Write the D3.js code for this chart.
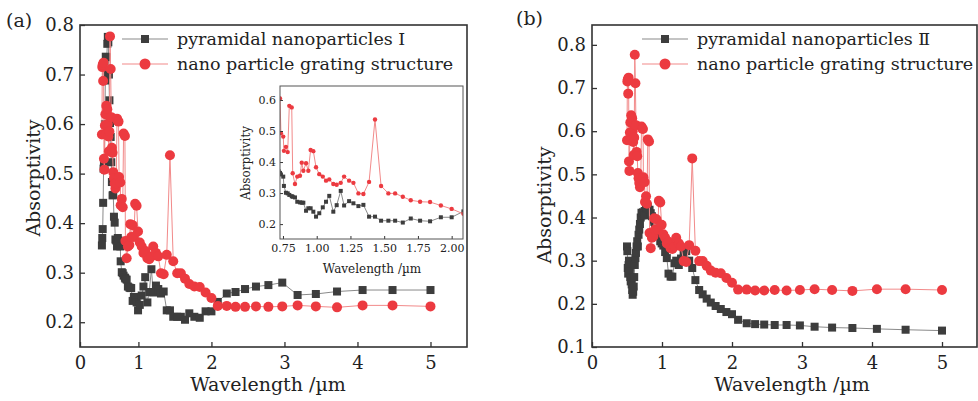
<!DOCTYPE html>
<html>
<head>
<meta charset="utf-8">
<script src="https://cdn.jsdelivr.net/npm/d3@7"></script>
<style>
  body { margin: 0; background: #fff; }
  svg { display: block; }
</style>
</head>
<body>
<svg id="chart" width="978" height="401"></svg>
<script>
// Wavelength sampling (µm), shared by every series
const wavelength = [
  0.500, 0.505, 0.511, 0.517, 0.523, 0.528, 0.534, 0.541, 0.547, 0.553,
  0.560, 0.567, 0.574, 0.581, 0.588, 0.596, 0.603, 0.611, 0.620, 0.628,
  0.637, 0.646, 0.655, 0.665, 0.675, 0.685, 0.696, 0.707, 0.718, 0.728,
  0.735, 0.752, 0.757, 0.772, 0.785, 0.797, 0.815, 0.822, 0.839, 0.856,
  0.876, 0.889, 0.901, 0.921, 0.938, 0.955, 0.975, 0.995, 1.019, 1.045,
  1.069, 1.093, 1.123, 1.148, 1.178, 1.203, 1.240, 1.272, 1.309, 1.346,
  1.388, 1.432, 1.477, 1.531, 1.581, 1.638, 1.697, 1.766, 1.840, 1.920,
  2.000, 2.087, 2.210, 2.330, 2.460, 2.610, 2.780, 2.970, 3.180, 3.430,
  3.720, 4.070, 4.480, 5.000
];

// Absorptivity of the nano particle grating structure
const gratingStructure = [
  0.579, 0.715, 0.720, 0.687, 0.724, 0.530, 0.508, 0.597, 0.620, 0.579,
  0.637, 0.620, 0.630, 0.600, 0.575, 0.545, 0.585, 0.777, 0.711, 0.614,
  0.552, 0.542, 0.503, 0.491, 0.480, 0.470, 0.480, 0.611, 0.606, 0.605,
  0.493, 0.482, 0.436, 0.449, 0.432, 0.581, 0.576, 0.364, 0.329, 0.353,
  0.356, 0.398, 0.372, 0.396, 0.372, 0.439, 0.435, 0.383, 0.361, 0.353,
  0.340, 0.344, 0.329, 0.327, 0.333, 0.353, 0.340, 0.333, 0.299, 0.297,
  0.336, 0.537, 0.323, 0.299, 0.299, 0.288, 0.277, 0.272, 0.271, 0.260,
  0.249, 0.233, 0.233, 0.231, 0.231, 0.232, 0.231, 0.232, 0.234, 0.232,
  0.230, 0.234, 0.234, 0.232
];

// Absorptivity of pyramidal nanoparticles I
const pyramidalI = [
  0.355, 0.370, 0.388, 0.441, 0.510, 0.525, 0.520, 0.600, 0.688, 0.736,
  0.700, 0.735, 0.762, 0.776, 0.765, 0.700, 0.648, 0.602, 0.574, 0.523,
  0.483, 0.456, 0.457, 0.413, 0.401, 0.367, 0.365, 0.353, 0.370, 0.365,
  0.360, 0.353, 0.323, 0.301, 0.299, 0.294, 0.290, 0.288, 0.286, 0.272,
  0.270, 0.269, 0.269, 0.243, 0.251, 0.251, 0.240, 0.224, 0.235, 0.254,
  0.272, 0.291, 0.240, 0.261, 0.307, 0.260, 0.274, 0.267, 0.258, 0.262,
  0.224, 0.224, 0.211, 0.211, 0.211, 0.205, 0.218, 0.211, 0.209, 0.222,
  0.222, 0.241, 0.258, 0.261, 0.267, 0.272, 0.275, 0.280, 0.255, 0.257,
  0.262, 0.265, 0.265, 0.265
];

// Absorptivity of pyramidal nanoparticles II
const pyramidalII = [
  0.333, 0.322, 0.283, 0.270, 0.290, 0.300, 0.285, 0.275, 0.262, 0.252,
  0.258, 0.245, 0.232, 0.221, 0.228, 0.240, 0.262, 0.290, 0.306, 0.318,
  0.333, 0.345, 0.333, 0.360, 0.372, 0.385, 0.400, 0.411, 0.405, 0.412,
  0.410, 0.415, 0.405, 0.420, 0.423, 0.425, 0.415, 0.418, 0.410, 0.403,
  0.395, 0.390, 0.385, 0.380, 0.372, 0.360, 0.345, 0.340, 0.335, 0.320,
  0.306, 0.270, 0.263, 0.263, 0.294, 0.300, 0.290, 0.305, 0.314, 0.322,
  0.300, 0.283, 0.255, 0.232, 0.222, 0.212, 0.203, 0.195, 0.188, 0.181,
  0.176, 0.163, 0.155, 0.153, 0.152, 0.151, 0.151, 0.150, 0.147, 0.145,
  0.144, 0.142, 0.140, 0.138
];

// Axis ticks and legend labels
const xTicksA = [0.2, 1, 2, 3, 4, 5];
const xTicksB = [0, 1, 2, 3, 4, 5];
const yTicksA = [0.2, 0.3, 0.4, 0.5, 0.6, 0.7, 0.8];
const yTicksB = [0.1, 0.2, 0.3, 0.4, 0.5, 0.6, 0.7, 0.8];
const insetXTicks = [0.75, 1.00, 1.25, 1.50, 1.75, 2.00];
const insetYTicks = [0.2, 0.3, 0.4, 0.5, 0.6];
const legendA = ["pyramidal nanoparticles I", "nano particle grating structure"];
const legendB = ["pyramidal nanoparticles Ⅱ", "nano particle grating structure"];

const FONT = "'DejaVu Serif', 'Liberation Serif', serif";
const TXT = "#222";
const FRAME = "#333";
const DARK = { fill: "#3d3d3d", line: "#8a8a8a" };
const RED = { fill: "#ec3a40", line: "#f28a8a" };

const svg = d3.select("#chart");

const rows = (vals) => wavelength.map((w, i) => ({ x: w, y: vals[i] }));

function drawSeries(g, x, y, data, style, kind, size) {
  const line = d3.line().x(d => x(d.x)).y(d => y(d.y));
  g.append("path").datum(data)
    .attr("fill", "none").attr("stroke", style.line)
    .attr("stroke-width", 1).attr("d", line);
  if (kind === "square") {
    g.selectAll(null).data(data).join("rect")
      .attr("x", d => x(d.x) - size / 2).attr("y", d => y(d.y) - size / 2)
      .attr("width", size).attr("height", size).attr("fill", style.fill);
  } else {
    g.selectAll(null).data(data).join("circle")
      .attr("cx", d => x(d.x)).attr("cy", d => y(d.y)).attr("r", size)
      .attr("fill", style.fill);
  }
}

function styleAxis(g, fs) {
  g.select(".domain").remove();
  g.selectAll(".tick line").attr("stroke", FRAME).attr("stroke-width", 1.3);
  g.selectAll(".tick text").attr("fill", TXT)
    .style("font-family", FONT).style("font-size", fs + "px");
}

function drawPanel(cfg) {
  const { x, y } = cfg;
  const [x0, x1] = x.range();
  const [y0, y1] = y.range();
  const root = svg.append("g");

  // axes with inward ticks
  const gx = root.append("g").attr("transform", `translate(0,${y0})`)
    .call(d3.axisBottom(x).tickValues(cfg.xTicks).tickSizeInner(-5).tickSizeOuter(0)
      .tickPadding(9).tickFormat(cfg.xFormat));
  styleAxis(gx, 18);
  const gy = root.append("g").attr("transform", `translate(${x0},0)`)
    .call(d3.axisLeft(y).tickValues(cfg.yTicks).tickSizeInner(-5).tickSizeOuter(0)
      .tickPadding(6).tickFormat(d3.format(".1f")));
  styleAxis(gy, 18);

  // series
  const plot = root.append("g");
  drawSeries(plot, x, y, rows(cfg.dark), DARK, "square", 8);
  drawSeries(plot, x, y, rows(gratingStructure), RED, "circle", 5);

  // frame
  root.append("rect").attr("x", x0).attr("y", y1)
    .attr("width", x1 - x0).attr("height", y0 - y1)
    .attr("fill", "none").attr("stroke", FRAME).attr("stroke-width", 1.6);

  // axis titles
  root.append("text").attr("x", cfg.xTitleX).attr("y", 391)
    .attr("text-anchor", "middle").attr("fill", TXT)
    .style("font-family", FONT).style("font-size", "19px")
    .text("Wavelength /µm");
  root.append("text")
    .attr("transform", `translate(${cfg.yTitleX},${cfg.yTitleY}) rotate(-90)`)
    .attr("text-anchor", "middle").attr("fill", TXT)
    .style("font-family", FONT).style("font-size", "19px")
    .text("Absorptivity");

  // panel label
  root.append("text").attr("x", cfg.labelX).attr("y", cfg.labelY)
    .attr("fill", TXT).style("font-family", FONT).style("font-size", "19px")
    .text(cfg.label);

  // legend
  const lg = root.append("g").attr("transform", `translate(${cfg.legendX},${cfg.legendY})`);
  const styles = [DARK, RED];
  cfg.legend.forEach((name, i) => {
    const row = lg.append("g").attr("transform", `translate(0,${i * 25})`);
    row.append("line").attr("x1", 0).attr("x2", 46).attr("y1", 0).attr("y2", 0)
      .attr("stroke", styles[i].line).attr("stroke-width", 1.2);
    if (i === 0) {
      row.append("rect").attr("x", 19).attr("y", -4).attr("width", 8).attr("height", 8)
        .attr("fill", styles[i].fill);
    } else {
      row.append("circle").attr("cx", 23).attr("cy", 0).attr("r", 5.5)
        .attr("fill", styles[i].fill);
    }
    row.append("text").attr("x", 55).attr("y", 6).attr("fill", TXT)
      .style("font-family", FONT).style("font-size", "17.5px").text(name);
  });
  return root;
}

// Panel (a)
drawPanel({
  x: d3.scaleLinear([0.2, 5.5], [80, 467]),
  y: d3.scaleLinear([0.15, 0.8], [347, 25]),
  xTicks: xTicksA,
  xFormat: d => (d === xTicksA[0] ? "0" : d3.format("d")(d)),
  yTicks: yTicksA,
  dark: pyramidalI,
  xTitleX: 268, yTitleX: 40, yTitleY: 178,
  label: "(a)", labelX: 6, labelY: 27,
  legend: legendA, legendX: 122, legendY: 39
});

// Panel (b)
drawPanel({
  x: d3.scaleLinear([0, 5.5], [592, 977]),
  y: d3.scaleLinear([0.1, 0.846], [347, 25]),
  xTicks: xTicksB,
  xFormat: d3.format("d"),
  yTicks: yTicksB,
  dark: pyramidalII,
  xTitleX: 792, yTitleX: 551, yTitleY: 205,
  label: "(b)", labelX: 516, labelY: 25,
  legend: legendB, legendX: 642, legendY: 39
});

// Inset of panel (a): 0.75–2.0 µm detail
(function inset() {
  const x = d3.scaleLinear([0.728, 2.084], [280, 463]);
  const y = d3.scaleLinear([0.152, 0.645], [239, 86]);
  const g = svg.append("g");
  g.append("rect").attr("x", 280).attr("y", 86).attr("width", 183).attr("height", 153)
    .attr("fill", "#fff");
  g.append("clipPath").attr("id", "inset-clip")
    .append("rect").attr("x", 280).attr("y", 86).attr("width", 183).attr("height", 153);
  const plot = g.append("g").attr("clip-path", "url(#inset-clip)");
  drawSeries(plot, x, y, rows(pyramidalI), DARK, "square", 4);
  drawSeries(plot, x, y, rows(gratingStructure), RED, "circle", 2.2);

  const gx = g.append("g").attr("transform", "translate(0,239)")
    .call(d3.axisBottom(x).tickValues(insetXTicks).tickSizeInner(-3).tickSizeOuter(0)
      .tickPadding(5).tickFormat(d3.format(".2f")));
  styleAxis(gx, 11);
  gx.selectAll(".tick line").attr("stroke-width", 1);
  const gy = g.append("g").attr("transform", "translate(280,0)")
    .call(d3.axisLeft(y).tickValues(insetYTicks).tickSizeInner(-3).tickSizeOuter(0)
      .tickPadding(4).tickFormat(d3.format(".1f")));
  styleAxis(gy, 11);
  gy.selectAll(".tick line").attr("stroke-width", 1);

  g.append("rect").attr("x", 280).attr("y", 86).attr("width", 183).attr("height", 153)
    .attr("fill", "none").attr("stroke", "#555").attr("stroke-width", 1);

  g.append("text").attr("x", 372).attr("y", 273).attr("text-anchor", "middle")
    .attr("fill", TXT).style("font-family", FONT).style("font-size", "12px")
    .text("Wavelength /µm");
  g.append("text").attr("transform", "translate(250,163) rotate(-90)")
    .attr("text-anchor", "middle").attr("fill", TXT)
    .style("font-family", FONT).style("font-size", "12px")
    .text("Absorptivity");
})();
</script>
</body>
</html>
